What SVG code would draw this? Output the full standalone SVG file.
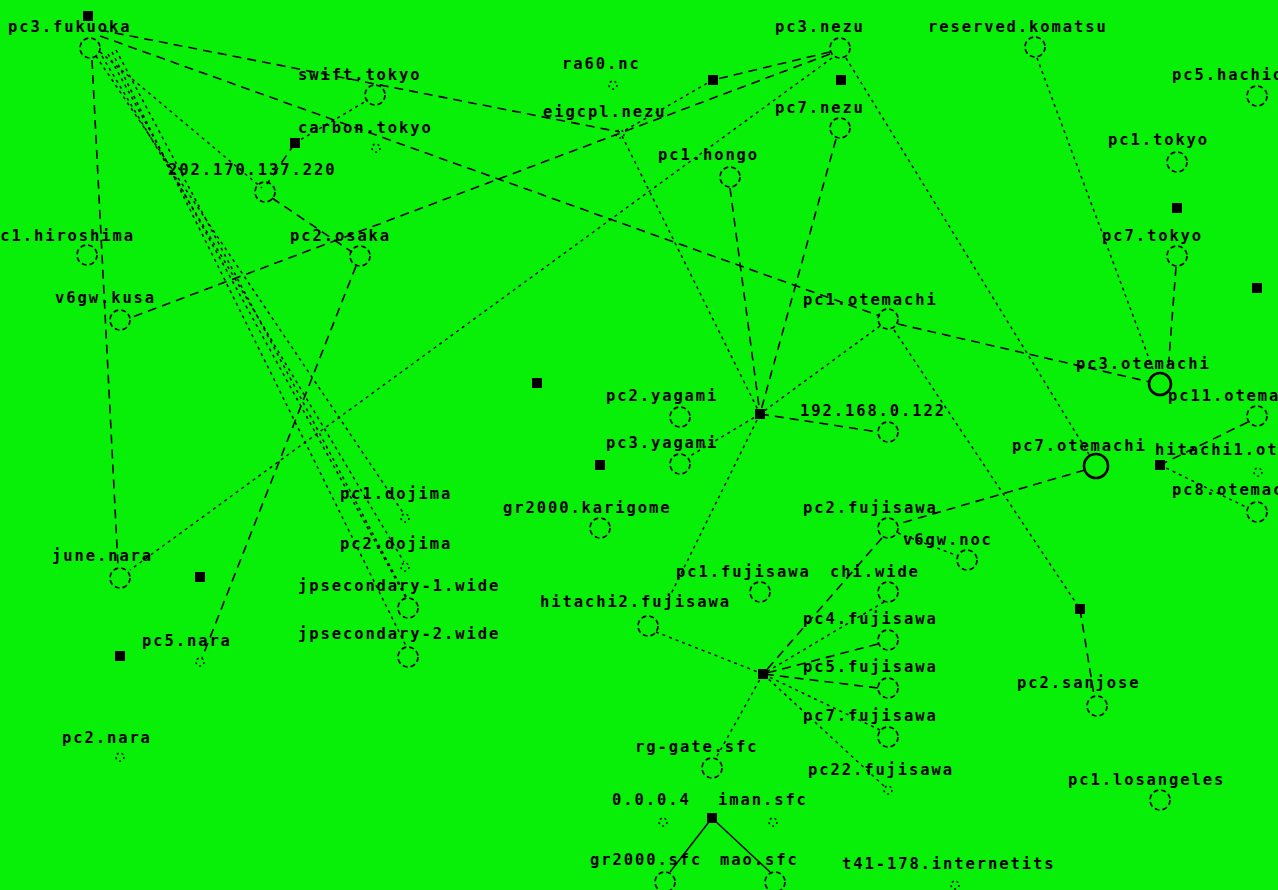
<svg xmlns="http://www.w3.org/2000/svg" width="1278" height="890" viewBox="0 0 1278 890">
<style>
.l{font-family:"DejaVu Sans Mono","Liberation Mono",monospace;font-size:15.5px;font-weight:bold;letter-spacing:1.9px;fill:#000}
.c{fill:none;stroke:#000;stroke-width:1.7;stroke-dasharray:5 3}
.b{fill:none;stroke:#000;stroke-width:2.6}
.d{fill:none;stroke:#000;stroke-width:1.5;stroke-dasharray:2 3}
.s{fill:#000}
.e1{stroke:#000;stroke-width:1.5;stroke-dasharray:3 4;fill:none}
.e2{stroke:#000;stroke-width:1.6;stroke-dasharray:9 6;fill:none}
.e3{stroke:#000;stroke-width:1.5;fill:none}
</style>
<rect width="1278" height="890" fill="#08f008"/>
<g id="connectors">
<line class="e2" x1="100" y1="30" x2="620" y2="132"/>
<line class="e2" x1="100" y1="36" x2="880" y2="316"/>
<line class="e2" x1="898" y1="324" x2="1150" y2="382"/>
<line class="e1" x1="100" y1="52" x2="262" y2="188"/>
<line class="e2" x1="272" y1="198" x2="352" y2="252"/>
<line class="e2" x1="295" y1="143" x2="267" y2="184"/>
<line class="e1" x1="295" y1="143" x2="368" y2="100"/>
<line class="e2" x1="92" y1="60" x2="118" y2="566"/>
<line class="e1" x1="96" y1="56" x2="404" y2="514"/>
<line class="e1" x1="102" y1="56" x2="404" y2="562"/>
<line class="e1" x1="108" y1="54" x2="406" y2="598"/>
<line class="e1" x1="112" y1="52" x2="406" y2="646"/>
<line class="e1" x1="116" y1="50" x2="408" y2="600"/>
<line class="e2" x1="356" y1="266" x2="202" y2="658"/>
<line class="e2" x1="830" y1="54" x2="130" y2="318"/>
<line class="e1" x1="832" y1="58" x2="130" y2="570"/>
<line class="e2" x1="830" y1="52" x2="713" y2="80"/>
<line class="e1" x1="713" y1="80" x2="622" y2="132"/>
<line class="e1" x1="846" y1="58" x2="1090" y2="456"/>
<line class="e1" x1="622" y1="136" x2="760" y2="414"/>
<line class="e2" x1="730" y1="188" x2="760" y2="414"/>
<line class="e2" x1="836" y1="139" x2="760" y2="414"/>
<line class="e1" x1="880" y1="326" x2="760" y2="414"/>
<line class="e2" x1="760" y1="414" x2="878" y2="432"/>
<line class="e1" x1="760" y1="414" x2="690" y2="456"/>
<line class="e1" x1="760" y1="414" x2="668" y2="600"/>
<line class="e1" x1="1037" y1="58" x2="1154" y2="372"/>
<line class="e2" x1="1176" y1="267" x2="1168" y2="372"/>
<line class="e1" x1="894" y1="330" x2="1080" y2="609"/>
<line class="e2" x1="1080" y1="609" x2="1094" y2="695"/>
<line class="e2" x1="1085" y1="470" x2="898" y2="524"/>
<line class="e2" x1="1248" y1="422" x2="1160" y2="465"/>
<line class="e1" x1="1160" y1="465" x2="1248" y2="508"/>
<line class="e1" x1="898" y1="533" x2="958" y2="556"/>
<line class="e2" x1="882" y1="538" x2="763" y2="674"/>
<line class="e1" x1="884" y1="602" x2="763" y2="674"/>
<line class="e2" x1="878" y1="644" x2="763" y2="674"/>
<line class="e2" x1="878" y1="688" x2="763" y2="674"/>
<line class="e1" x1="880" y1="730" x2="763" y2="674"/>
<line class="e1" x1="884" y1="786" x2="763" y2="674"/>
<line class="e1" x1="656" y1="632" x2="763" y2="674"/>
<line class="e1" x1="763" y1="674" x2="716" y2="758"/>
<line class="e3" x1="712" y1="818" x2="670" y2="872"/>
<line class="e3" x1="712" y1="818" x2="770" y2="872"/>
</g>
<g id="pc3.fukuoka"><rect class="s" x="83" y="11" width="10" height="10"/><text class="l" x="8" y="32">pc3.fukuoka</text><circle class="c" cx="90" cy="48" r="10"/></g>
<g id="swift.tokyo"><text class="l" x="298" y="80">swift.tokyo</text><circle class="c" cx="375" cy="95" r="10"/></g>
<g id="carbon.tokyo"><rect class="s" x="290" y="138" width="10" height="10"/><text class="l" x="298" y="133">carbon.tokyo</text><circle class="d" cx="376" cy="148" r="4"/></g>
<g id="n202"><text class="l" x="168" y="175">202.170.137.220</text><circle class="c" cx="265" cy="192" r="10"/></g>
<g id="pc1.hiroshima"><text class="l" x="-11" y="241">pc1.hiroshima</text><circle class="c" cx="87" cy="255" r="10"/></g>
<g id="v6gw.kusa"><text class="l" x="55" y="303">v6gw.kusa</text><circle class="c" cx="120" cy="320" r="10"/></g>
<g id="pc2.osaka"><text class="l" x="290" y="241">pc2.osaka</text><circle class="c" cx="360" cy="256" r="10"/></g>
<g id="june.nara"><text class="l" x="52" y="561">june.nara</text><circle class="c" cx="120" cy="578" r="10"/></g>
<g id="sq1"><rect class="s" x="195" y="572" width="10" height="10"/></g>
<g id="pc5.nara"><rect class="s" x="115" y="651" width="10" height="10"/><text class="l" x="142" y="646">pc5.nara</text><circle class="d" cx="200" cy="662" r="4"/></g>
<g id="pc2.nara"><text class="l" x="62" y="743">pc2.nara</text><circle class="d" cx="120" cy="757" r="4"/></g>
<g id="pc1.dojima"><text class="l" x="340" y="499">pc1.dojima</text><circle class="d" cx="405" cy="518" r="4"/></g>
<g id="pc2.dojima"><text class="l" x="340" y="549">pc2.dojima</text><circle class="d" cx="405" cy="567" r="4"/></g>
<g id="jpsecondary-1.wide"><text class="l" x="298" y="591">jpsecondary-1.wide</text><circle class="c" cx="408" cy="608" r="10"/></g>
<g id="jpsecondary-2.wide"><text class="l" x="298" y="639">jpsecondary-2.wide</text><circle class="c" cx="408" cy="657" r="10"/></g>
<g id="ra60.nc"><text class="l" x="562" y="69">ra60.nc</text><circle class="d" cx="613" cy="85" r="4"/></g>
<g id="eigcpl.nezu"><text class="l" x="543" y="117">eigcpl.nezu</text><circle class="d" cx="620" cy="134" r="4"/></g>
<g id="sq2"><rect class="s" x="708" y="75" width="10" height="10"/></g>
<g id="pc3.nezu"><text class="l" x="775" y="32">pc3.nezu</text><circle class="c" cx="840" cy="48" r="10"/></g>
<g id="sq3"><rect class="s" x="836" y="75" width="10" height="10"/></g>
<g id="pc7.nezu"><text class="l" x="775" y="113">pc7.nezu</text><circle class="c" cx="840" cy="128" r="10"/></g>
<g id="pc1.hongo"><text class="l" x="658" y="160">pc1.hongo</text><circle class="c" cx="730" cy="177" r="10"/></g>
<g id="reserved.komatsu"><text class="l" x="928" y="32">reserved.komatsu</text><circle class="c" cx="1035" cy="47" r="10"/></g>
<g id="pc5.hachioji"><text class="l" x="1172" y="80">pc5.hachioji</text><circle class="c" cx="1257" cy="96" r="10"/></g>
<g id="pc1.tokyo"><text class="l" x="1108" y="145">pc1.tokyo</text><circle class="c" cx="1177" cy="162" r="10"/></g>
<g id="sq4"><rect class="s" x="1172" y="203" width="10" height="10"/></g>
<g id="pc7.tokyo"><text class="l" x="1102" y="241">pc7.tokyo</text><circle class="c" cx="1177" cy="256" r="10"/></g>
<g id="sq5"><rect class="s" x="1252" y="283" width="10" height="10"/></g>
<g id="pc1.otemachi"><text class="l" x="803" y="305">pc1.otemachi</text><circle class="c" cx="888" cy="319" r="10"/></g>
<g id="pc3.otemachi"><text class="l" x="1076" y="369">pc3.otemachi</text><circle class="b" cx="1160" cy="384" r="11"/></g>
<g id="pc11.otemachi"><text class="l" x="1168" y="401">pc11.otemachi</text><circle class="c" cx="1257" cy="416" r="10"/></g>
<g id="n192"><text class="l" x="800" y="416">192.168.0.122</text><circle class="c" cx="888" cy="432" r="10"/></g>
<g id="hub1"><rect class="s" x="755" y="409" width="10" height="10"/></g>
<g id="pc2.yagami"><text class="l" x="606" y="401">pc2.yagami</text><circle class="c" cx="680" cy="417" r="10"/></g>
<g id="pc3.yagami"><text class="l" x="606" y="448">pc3.yagami</text><circle class="c" cx="680" cy="464" r="10"/></g>
<g id="sq6"><rect class="s" x="532" y="378" width="10" height="10"/></g>
<g id="sq7"><rect class="s" x="595" y="460" width="10" height="10"/></g>
<g id="pc7.otemachi"><text class="l" x="1012" y="451">pc7.otemachi</text><circle class="b" cx="1096" cy="466" r="12"/></g>
<g id="hitachi1.otemachi"><rect class="s" x="1155" y="460" width="10" height="10"/><text class="l" x="1155" y="455">hitachi1.otemachi</text><circle class="d" cx="1258" cy="472" r="4"/></g>
<g id="pc8.otemachi"><text class="l" x="1172" y="495">pc8.otemachi</text><circle class="c" cx="1257" cy="512" r="10"/></g>
<g id="gr2000.karigome"><text class="l" x="503" y="513">gr2000.karigome</text><circle class="c" cx="600" cy="528" r="10"/></g>
<g id="pc2.fujisawa"><text class="l" x="803" y="513">pc2.fujisawa</text><circle class="c" cx="888" cy="528" r="10"/></g>
<g id="v6gw.noc"><text class="l" x="903" y="545">v6gw.noc</text><circle class="c" cx="967" cy="560" r="10"/></g>
<g id="pc1.fujisawa"><text class="l" x="676" y="577">pc1.fujisawa</text><circle class="c" cx="760" cy="592" r="10"/></g>
<g id="chi.wide"><text class="l" x="830" y="577">chi.wide</text><circle class="c" cx="888" cy="592" r="10"/></g>
<g id="hitachi2.fujisawa"><text class="l" x="540" y="607">hitachi2.fujisawa</text><circle class="c" cx="648" cy="626" r="10"/></g>
<g id="pc4.fujisawa"><text class="l" x="803" y="624">pc4.fujisawa</text><circle class="c" cx="888" cy="640" r="10"/></g>
<g id="hub2"><rect class="s" x="758" y="669" width="10" height="10"/></g>
<g id="pc5.fujisawa"><text class="l" x="803" y="672">pc5.fujisawa</text><circle class="c" cx="888" cy="688" r="10"/></g>
<g id="pc7.fujisawa"><text class="l" x="803" y="721">pc7.fujisawa</text><circle class="c" cx="888" cy="737" r="10"/></g>
<g id="pc22.fujisawa"><text class="l" x="808" y="775">pc22.fujisawa</text><circle class="d" cx="888" cy="790" r="4"/></g>
<g id="rg-gate.sfc"><text class="l" x="635" y="752">rg-gate.sfc</text><circle class="c" cx="712" cy="768" r="10"/></g>
<g id="n0004"><text class="l" x="612" y="805">0.0.0.4</text><circle class="d" cx="663" cy="822" r="4"/></g>
<g id="iman.sfc"><text class="l" x="718" y="805">iman.sfc</text><circle class="d" cx="773" cy="822" r="4"/></g>
<g id="hub3"><rect class="s" x="707" y="813" width="10" height="10"/></g>
<g id="gr2000.sfc"><text class="l" x="590" y="865">gr2000.sfc</text><circle class="c" cx="665" cy="882" r="10"/></g>
<g id="mao.sfc"><text class="l" x="720" y="865">mao.sfc</text><circle class="c" cx="775" cy="882" r="10"/></g>
<g id="t41-178.internetits"><text class="l" x="842" y="869">t41-178.internetits</text><circle class="d" cx="955" cy="885" r="4"/></g>
<g id="pc2.sanjose"><rect class="s" x="1075" y="604" width="10" height="10"/><text class="l" x="1017" y="688">pc2.sanjose</text><circle class="c" cx="1097" cy="706" r="10"/></g>
<g id="pc1.losangeles"><text class="l" x="1068" y="785">pc1.losangeles</text><circle class="c" cx="1160" cy="800" r="10"/></g>
</svg>
